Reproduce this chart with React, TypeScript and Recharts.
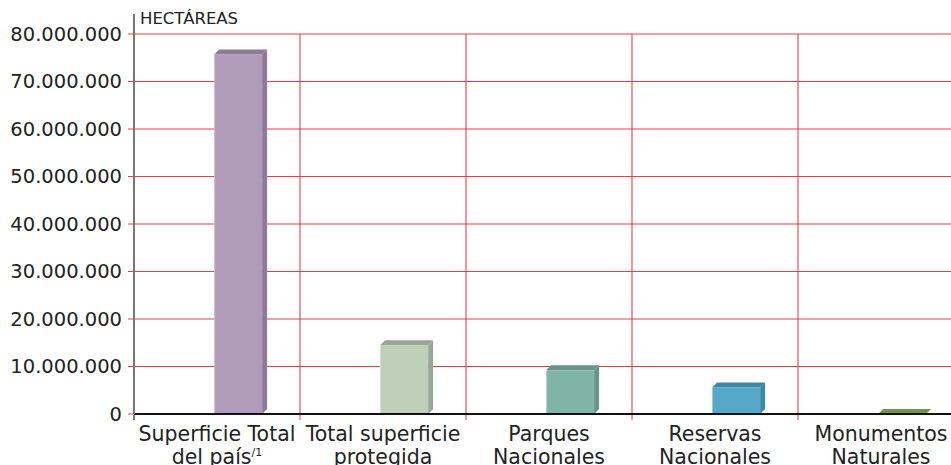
import { BarChart, Bar, XAxis, YAxis, CartesianGrid, Cell } from 'recharts'

const CATEGORIAS = ['Superficie Total|del país', 'Total superficie|protegida', 'Parques|Nacionales', 'Reservas|Nacionales', 'Monumentos|Naturales']
const HECTAREAS = [75700000, 14500000, 9200000, 5600000, 20000]
const TICKS_Y = [0, 10000000, 20000000, 30000000, 40000000, 50000000, 60000000, 70000000, 80000000]

const FRENTE = ['#b09bbb', '#bfcfba', '#80b5a6', '#55a8c8', '#7a9450']
const LADO = ['#8c7b98', '#9aa696', '#659488', '#3f88a3', '#76904d']

const ROJO = '#e63f48'
const FUENTE = '"DejaVu Sans", Arial, sans-serif'

const data = CATEGORIAS.map((c, i) => ({ categoria: c, valor: HECTAREAS[i] }))

const fmt = (v: number) => String(v).replace(/\B(?=(\d{3})+(?!\d))/g, '.')

function Barra3D(props: any) {
  const { x, y, width, height, index } = props
  const off = width * 0.44
  const d = 5
  const fx = x + off
  const front = FRENTE[index]
  const side = LADO[index]
  return (
    <g>
      <polygon points={`${fx},${y} ${fx + d},${y - d} ${fx + width + d},${y - d} ${fx + width},${y}`} fill={side} />
      <polygon points={`${fx + width},${y} ${fx + width + d},${y - d} ${fx + width + d},${y + height - d} ${fx + width},${y + height}`} fill={side} />
      <rect x={fx} y={y} width={width} height={Math.max(height, 0)} fill={front} />
      <line x1={fx + 0.5} y1={y} x2={fx + 0.5} y2={y + height} stroke="#ffffff" strokeOpacity={0.35} />
    </g>
  )
}

function TickCategoria(props: any) {
  const { x, y, payload, index, width } = props
  const band = width / CATEGORIAS.length
  const [l1, l2] = String(payload.value).split('|')
  return (
    <g>
      <line x1={x + band / 2} y1={y - 1} x2={x + band / 2} y2={y + 4} stroke={ROJO} />
      {index === 0 && <line x1={x - band / 2} y1={y - 1} x2={x - band / 2} y2={y + 4} stroke="#777" strokeWidth={2} />}
      <text x={x} y={y + 25} textAnchor="middle" fontSize={20.5} fill="#222" fontFamily={FUENTE}>{l1}</text>
      <text x={x} y={y + 48} textAnchor="middle" fontSize={20.5} fill="#222" fontFamily={FUENTE}>
        {l2}
        {index === 0 && <tspan fontSize={11} dy={-8}>/1</tspan>}
      </text>
    </g>
  )
}

export default function App() {
  return (
    <div style={{ position: 'fixed', left: 0, top: 0, width: 951, height: 465, overflow: 'hidden', background: '#fff' }}>
      <BarChart width={980} height={465} data={data} margin={{ top: 34, right: 16, bottom: 0, left: 0 }} barSize={48}>
        <CartesianGrid
          stroke={ROJO}
          strokeWidth={1.1}
          verticalCoordinatesGenerator={({ offset }: any) =>
            CATEGORIAS.map((_, i) => offset.left + ((i + 1) * offset.width) / CATEGORIAS.length)
          }
        />
        <XAxis
          dataKey="categoria"
          interval={0}
          height={51}
          tickLine={false}
          tickSize={0}
          axisLine={{ stroke: '#111', strokeWidth: 2 }}
          tick={<TickCategoria />}
        />
        <YAxis
          width={134}
          domain={[0, 80000000]}
          ticks={TICKS_Y}
          interval={0}
          tickFormatter={fmt}
          tickSize={6}
          tickMargin={6}
          tickLine={{ stroke: ROJO }}
          axisLine={{ stroke: '#777', strokeWidth: 2 }}
          tick={{ fontSize: 19.5, fill: '#222', fontFamily: FUENTE }}
        />
        <Bar dataKey="valor" isAnimationActive={false} shape={<Barra3D />}>
          {data.map((_, i) => (
            <Cell key={i} fill={FRENTE[i]} />
          ))}
        </Bar>
      </BarChart>
      <div style={{ position: 'absolute', left: 133, top: 14, width: 2, height: 21, background: '#777' }} />
      <div style={{ position: 'absolute', left: 140, top: 9, fontSize: 16.5, color: '#222', fontFamily: FUENTE, lineHeight: '20px' }}>
        HECTÁREAS
      </div>
    </div>
  )
}
